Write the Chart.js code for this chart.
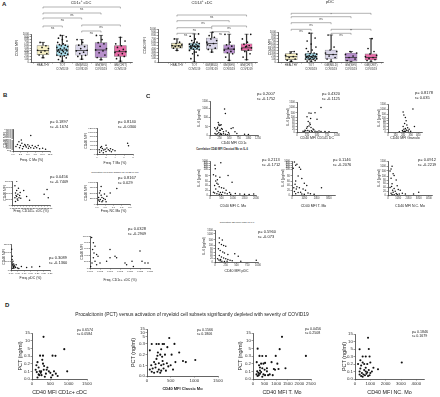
<!DOCTYPE html>
<html lang="en">
<head>
<meta charset="UTF-8">
<title>CD40 MFI figure</title>
<style>
  body { margin: 0; background: #fff; }
  #fig { position: relative; width: 440px; height: 397px; overflow: hidden; background: #fff;
         font-family: "Liberation Sans", Arial, sans-serif; color: #222; }
  #fig canvas { position: absolute; }
  .t { position: absolute; white-space: nowrap; line-height: 1.15; }
  .lt { font-weight: bold; }
  .c { transform: translateX(-50%); }
</style>
</head>
<body>
<div id="fig"></div>
<script src="https://cdn.jsdelivr.net/npm/chart.js"></script>
<script>
// ---------- A: box plots (q1, median, q3, min, max) ----------
const GROUPS = [['HEALTHY'], ['TOT', 'COVID19'], ['GM(MILD)', 'COVID19'], ['GM(SEV)', 'COVID19'], ['GM(CRIT)', 'COVID19']];
const GROUP_COLORS = ['#f6efc4', '#a9dcea', '#d9d5e8', '#b78fcb', '#e86ca8'];
const A_YT = [0, 100, 200, 300, 400, 500, 600, 700, 800, 900, 1000];

const A1_BOX = [[260, 407, 590, 150, 700], [220, 430, 615, 30, 950], [240, 410, 610, 100, 800], [160, 430, 690, 80, 950], [200, 370, 590, 30, 880]];
const A1_PTS = [
  [160, 250, 300, 350, 400, 420, 480, 520, 580, 700],
  [30, 90, 150, 200, 220, 250, 280, 300, 320, 350, 370, 390, 400, 420, 430, 450, 480, 500, 520, 550, 580, 600, 620, 650, 700, 750, 800, 850, 900, 950],
  [100, 200, 240, 300, 350, 400, 420, 480, 550, 600, 700, 800],
  [80, 160, 250, 330, 400, 430, 480, 560, 650, 690, 800, 950],
  [30, 120, 200, 250, 300, 340, 370, 400, 450, 520, 580, 650, 750, 880]
];
const A1_SIG = ['ns', 'ns', 'ns', 'ns', 'ns', 'ns'];

const A2_BOX = [[420, 490, 570, 350, 700], [370, 470, 570, 0, 850], [390, 560, 725, 300, 900], [265, 390, 520, 50, 840], [345, 430, 550, 70, 840]];
const A2_PTS = [
  [350, 420, 450, 470, 490, 500, 520, 560, 600, 700],
  [0, 100, 200, 250, 300, 350, 370, 390, 410, 430, 450, 460, 470, 480, 490, 500, 510, 520, 540, 560, 580, 600, 650, 700, 780, 850, 300, 420, 460, 530],
  [300, 380, 420, 500, 560, 600, 650, 700, 750, 800, 900, 520],
  [50, 150, 250, 280, 320, 360, 390, 420, 480, 520, 600, 840],
  [70, 150, 250, 320, 360, 400, 430, 460, 500, 540, 600, 700, 840, 480]
];
const A2_SIG = ['ns', 'ns', 'ns', 'ns', 'ns', 'ns'];

const A3_BOX = [[80, 180, 280, 20, 350], [90, 180, 290, 0, 960], [100, 250, 400, 0, 900], [30, 150, 300, 0, 350], [70, 150, 270, 0, 780]];
const A3_PTS = [
  [20, 60, 100, 150, 180, 220, 260, 300, 350],
  [0, 30, 50, 80, 90, 100, 110, 120, 130, 140, 150, 160, 170, 180, 190, 200, 210, 220, 240, 260, 280, 300, 350, 400, 450, 500, 600, 700, 800, 960],
  [0, 100, 150, 200, 250, 300, 350, 400, 500, 900],
  [0, 50, 100, 150, 200, 250, 300, 350],
  [0, 50, 80, 120, 150, 180, 220, 270, 350, 450, 780]
];
const A3_SIG = ['*', 'ns', 'ns', 'ns', '**', 'ns'];
const BRACKET_PAIRS = [[0, 4], [0, 3], [0, 2], [0, 1], [2, 4], [2, 3]];

// ---------- B: frequency vs CD40 MFI ----------
const B1_PTS = [[1.5, 3000], [2, 4200], [2.5, 2500], [3, 3500], [3.5, 2000], [4, 3000], [4.5, 1800], [5, 2800], [5.5, 2200], [6, 1500], [6.5, 2500], [7, 1200], [7.5, 2000], [8, 1500], [9, 1000], [10, 1300], [11, 800], [6, 7000], [2.2, 1500], [3.2, 1000], [4.2, 2400], [5.2, 1200], [1, 2000], [8.5, 2500], [2.8, 5000]];
const B1_XT = [0, 2.5, 5, 7.5, 10, 12.5];
const B1_YT = [0, 500, 1000, 1500, 2000, 2500, 3000, 3500, 4000, 4500, 5000, 5500, 6000, 6500, 7000, 7500, 8000, 8500, 9000, 9500, 10000];
const B2_PTS = [[0.5, 2000], [0.8, 3000], [1, 1500], [1.2, 2500], [1.5, 1800], [1.8, 2200], [2, 1200], [2.2, 2800], [2.5, 2000], [2.8, 1500], [3, 2400], [3.2, 1000], [0.6, 800], [1.4, 600], [2, 4000], [1, 3500], [6.8, 5000], [7, 3800], [3.5, 2000], [4, 1500]];
const B2_XT = [0, 2, 4, 6, 8];
const B2_YT = [0, 2000, 4000, 6000, 8000, 10000, 12000];
const B3_PTS = [[0.05, 300], [0.06, 500], [0.07, 400], [0.08, 600], [0.08, 350], [0.09, 250], [0.1, 450], [0.1, 200], [0.11, 700], [0.12, 300], [0.13, 400], [0.14, 520], [0.15, 280], [0.05, 800], [0.06, 150], [0.2, 600], [0.25, 350], [0.55, 450], [0.6, 650], [0.62, 300], [0.08, 1000], [0.3, 200]];
const B3_XT = [0, 0.05, 0.1, 0.15, 0.2, 0.25, 0.3, 0.35, 0.4, 0.45, 0.5, 0.55, 0.6, 0.65];
const B3_YT = [0, 250, 500, 750, 1000];
const B4_PTS = [[0.1, 3000], [0.15, 5000], [0.2, 2000], [0.25, 4000], [0.3, 3000], [0.35, 1500], [0.2, 6000], [0.4, 2500], [0.45, 4500], [0.5, 2000], [0.3, 1000], [0.15, 1200], [0.6, 3500], [0.8, 5000], [1.2, 7000], [0.25, 8000], [0.1, 1800], [0.55, 1000]];
const B4_XT = [0, 0.5, 1, 1.5, 2];
const B4_YT = [0, 2500, 5000, 7500, 10000];
const B5_PTS = [[0.005, 1200], [0.01, 800], [0.01, 400], [0.012, 300], [0.015, 250], [0.018, 200], [0.02, 350], [0.02, 150], [0.022, 100], [0.025, 280], [0.03, 200], [0.035, 150], [0.04, 300], [0.05, 120], [0.08, 200], [0.12, 150], [0.16, 180], [0.22, 200], [0.015, 500], [0.008, 600], [0.01, 100], [0.06, 80]];
const B5_XT = [0, 0.05, 0.1, 0.15, 0.2, 0.25, 0.3];
const B5_YT = [0, 500, 1000, 1500];
const B6_PTS = [[0.0008, 950], [0.0017, 790], [0.0025, 680], [0.0013, 580], [0.002, 470], [0.0033, 420], [0.0017, 320], [0.004, 370], [0.0025, 210], [0.0033, 105], [0.005, 160], [0.0083, 210], [0.01, 320], [0.0125, 370], [0.0133, 320], [0.01, 580], [0.0175, 160], [0.0183, 105], [0.021, 210], [0.025, 530], [0.026, 210], [0.0275, 160], [0.029, 160], [0.0217, 50], [0.0003, 50], [0.001, 160]];
const B6_XT = [0, 0.005, 0.01, 0.015, 0.02, 0.025, 0.03];
const B6_YT = [0, 200, 400, 600, 800, 1000];
const B_STATS = [['0.1897', '-0.1674'], ['0.8140', '-0.0300'], ['0.0456', '-0.7409'], ['0.8167', '0.029'], ['0.3089', '-0.1360'], ['0.0328', '-0.2909']];

// ---------- C: CD40 MFI vs IL-6 (pg/ml) ----------
const IL6_T1 = [0, 50, 500, 1000, 1500];
const IL6_T2 = [0, 20, 40, 60, 80, 100, 500, 1000, 1500];
const IL6_T3 = [0, 20, 40, 60, 80, 200, 400, 600, 800, 1000];
const C1_PTS = [[380, 950], [400, 700], [230, 170], [215, 250], [240, 120], [290, 150], [265, 130], [120, 45], [150, 35], [200, 48], [250, 30], [300, 40], [350, 20], [180, 25], [230, 15], [280, 10], [320, 35], [420, 25], [480, 15], [550, 40], [600, 45], [650, 20], [700, 10], [900, 5], [130, 10], [160, 5], [200, 8], [260, 5], [300, 3], [350, 8], [400, 5], [450, 2], [500, 6], [270, 30], [190, 40], [1000, 3]];
const C1_XT = [0, 250, 500, 750, 1000, 1250];
const C2_PTS = [[600, 1000], [300, 480], [350, 450], [450, 520], [250, 130], [500, 85], [280, 70], [320, 60], [330, 50], [300, 40], [260, 35], [240, 25], [350, 30], [400, 20], [420, 15], [200, 12], [220, 8], [270, 10], [310, 5], [360, 8], [380, 3], [450, 5], [500, 2], [550, 6], [600, 4], [700, 3], [800, 2], [150, 5], [180, 3], [340, 90]];
const C2_XT = [0, 250, 500, 750, 1000];
const C3_PTS = [[200, 700], [330, 1000], [210, 400], [230, 150], [240, 80], [220, 60], [250, 50], [200, 40], [260, 30], [230, 25], [210, 20], [240, 15], [250, 10], [270, 8], [220, 5], [200, 3], [190, 10], [280, 20], [300, 5], [350, 40], [150, 2], [230, 2]];
const C3_XT = [0, 100, 200, 300, 400];
const C4_PTS = [[470, 850], [215, 600], [230, 250], [150, 100], [250, 80], [430, 75], [785, 90], [960, 55], [300, 50], [350, 45], [200, 40], [400, 35], [500, 30], [250, 25], [600, 28], [700, 20], [350, 15], [450, 10], [550, 12], [650, 8], [750, 5], [850, 10], [300, 5], [400, 3], [500, 2], [200, 8], [150, 12], [900, 3], [1100, 6], [1300, 4], [1500, 3], [1700, 2], [1900, 4], [250, 60], [320, 65]];
const C4_XT = [0, 500, 1000, 1500, 2000];
const C5_PTS = [[200, 900], [400, 700], [300, 600], [600, 400], [100, 300], [700, 200], [500, 80], [800, 70], [300, 60], [1000, 50], [1200, 40], [400, 35], [600, 30], [900, 25], [1100, 20], [200, 15], [500, 10], [700, 12], [1300, 8], [1500, 5], [1800, 3], [2400, 30], [300, 5], [800, 4], [1000, 3], [150, 30], [250, 45], [350, 25]];
const C5_XT = [0, 1000, 2000, 3000];
const C6_PTS = [[400, 1000], [300, 700], [200, 500], [500, 300], [600, 150], [300, 90], [800, 80], [400, 60], [900, 50], [200, 40], [600, 35], [1000, 30], [1200, 25], [700, 20], [500, 15], [300, 10], [800, 8], [1100, 5], [1400, 10], [1700, 5], [3000, 15], [2500, 5], [400, 3], [600, 2], [900, 3], [350, 45], [450, 25]];
const C6_XT = [0, 1000, 2000, 3000, 4000];
const C7_PTS = [[100, 650], [170, 500], [100, 300], [150, 180], [200, 100], [250, 95], [80, 80], [120, 70], [180, 60], [220, 55], [460, 50], [540, 35], [300, 45], [100, 40], [150, 30], [200, 25], [250, 20], [300, 15], [350, 10], [120, 8], [160, 5], [220, 3], [280, 5], [400, 8], [600, 5], [960, 10], [60, 20], [90, 12], [130, 15]];
const C7_XT = [0, 250, 500, 750, 1000];
const C_STATS = [['0.2007', '-0.1752'], ['0.4320', '-0.1125'], ['0.8178', '0.035'], ['0.2113', '-0.1712'], ['0.1146', '-0.2076'], ['0.0912', '-0.2219'], ['0.5960', '-0.073']];

// ---------- D: CD40 MFI vs PCT (ng/ml) ----------
const PCT_T = [0, 0.1, 0.2, 0.3, 5, 10, 15];
const PCT_LABELS = ['0.0', '0.1', '0.2', '0.3', '5', '10', '15'];
const D1_PTS = [[120, 0.18], [150, 0.22], [180, 0.15], [100, 0.12], [210, 0.1], [240, 0.08], [260, 0.05], [300, 0.2], [320, 0.12], [350, 0.03], [380, 0.07], [200, 0.05], [150, 0.02], [420, 0.15], [460, 0.1], [500, 0.08], [560, 0.05], [600, 0.1], [520, 0.02], [280, 0.25], [330, 0.17], [250, 0.1], [180, 0.06], [130, 0.09], [400, 0.12], [650, 0.07], [700, 0.04], [960, 0.1], [315, 12.5], [880, 4.5], [220, 0.5], [300, 0.5], [560, 0.5], [640, 0.4]];
const D1_XT = [0, 500, 1000, 1500];
const D2_PTS = [[60, 0.24], [100, 0.3], [200, 0.3], [330, 0.3], [360, 0.3], [250, 0.31], [470, 4], [580, 0.32], [430, 0.27], [300, 0.25], [230, 0.22], [280, 0.2], [320, 0.18], [380, 0.2], [520, 0.2], [200, 0.16], [150, 0.13], [250, 0.12], [300, 0.1], [350, 0.11], [420, 0.12], [180, 0.08], [120, 0.07], [250, 0.06], [300, 0.05], [350, 0.07], [400, 0.05], [100, 0.04], [150, 0.03], [220, 0.04], [280, 0.03], [180, 0.11], [450, 0.09], [500, 0.1], [550, 0.06], [600, 0.13], [680, 0.22], [760, 0.14], [820, 0.13], [1020, 0.15], [220, 0.19], [330, 0.14], [90, 0.1], [60, 0.06]];
const D2_XT = [0, 500, 1000, 1500];
const D3_PTS = [[200, 4.8], [1250, 12.5], [1150, 4.5], [2280, 0.35], [280, 0.35], [400, 0.33], [560, 0.33], [980, 0.35], [350, 0.2], [450, 0.2], [520, 0.21], [800, 0.22], [1050, 0.2], [160, 0.22], [260, 0.18], [300, 0.15], [400, 0.14], [500, 0.12], [600, 0.14], [900, 0.13], [1100, 0.13], [1400, 0.14], [180, 0.1], [230, 0.08], [300, 0.07], [350, 0.09], [450, 0.06], [520, 0.05], [650, 0.05], [720, 0.06], [850, 0.05], [200, 0.04], [250, 0.05], [400, 0.03], [300, 0.11], [150, 0.06], [600, 0.1], [950, 0.12]];
const D3_XT = [0, 500, 1000, 1500, 2000, 2500];
const D4_PTS = [[850, 12.5], [300, 4.8], [900, 5], [500, 0.32], [700, 0.32], [950, 0.34], [3050, 0.22], [350, 0.25], [500, 0.22], [600, 0.2], [800, 0.2], [1000, 0.22], [400, 0.18], [700, 0.15], [900, 0.12], [1200, 0.15], [1500, 0.13], [1100, 0.1], [300, 0.1], [450, 0.08], [550, 0.06], [650, 0.05], [750, 0.07], [850, 0.04], [950, 0.05], [400, 0.04], [500, 0.03], [600, 0.12], [700, 0.1], [800, 0.09], [300, 0.06], [1000, 0.08], [350, 0.14], [200, 0.2]];
const D4_XT = [0, 1000, 2000, 3000, 4000];
const D_STATS = [['0.6574', '0.0584'], ['0.1566', '0.1806'], ['0.0456', '0.2508'], ['0.1846', '0.1679']];

// ---------- layout helpers ----------
const FONT = '"Liberation Sans", Arial, sans-serif';
Chart.defaults.font.family = FONT;
Chart.defaults.color = '#333';
const fig = document.getElementById('fig');
const JIT = [0, -0.2, 0.2, -0.1, 0.1, -0.28, 0.28, -0.05, 0.15, -0.15, 0.05, -0.24, 0.24];

// broken axis: value -> position along piecewise ticks
function toPos(v, t, p) {
  for (let i = 1; i < t.length; i++) {
    if (v <= t[i]) return p[i - 1] + (v - t[i - 1]) / (t[i] - t[i - 1]) * (p[i] - p[i - 1]);
  }
  return p[p.length - 1];
}

function axis(vals, pos, o, title, size, isX) {
  const p = pos || vals;
  const tfs = isX && o.xtitle ? o.xtitle : o.title;
  return {
    type: 'linear',
    min: (isX ? o.xmin : o.ymin) ?? p[0],
    max: (isX ? o.xmax : o.ymax) ?? p[p.length - 1],
    afterBuildTicks: s => { s.ticks = p.map(v => ({ value: v })); },
    afterFit: s => { if (isX) s.height = size; else s.width = size; },
    grid: { drawOnChartArea: false, tickLength: 1.5, color: '#333', lineWidth: 0.5 },
    border: { color: '#222', width: 0.7 },
    ticks: {
      font: { size: o.tick }, padding: 0.5, autoSkip: false, maxRotation: 0, minRotation: 0, color: '#333',
      callback: (v, i) => {
        const lab = (isX ? o.xlab : o.ylab);
        if (lab) return lab[i];
        const d = isX ? o.xdec : o.ydec;
        return d == null ? String(vals[i]) : vals[i].toFixed(d);
      }
    },
    title: { display: !!title, text: title, font: { size: tfs, weight: o.bold && isX ? 'bold' : 'normal' }, padding: 0, color: '#222' }
  };
}

function mk(box, m, cfg, extraPlugins) {
  const [x, y, w, h] = box, [L, B, T, R] = m;
  const c = document.createElement('canvas');
  c.width = w + L + R; c.height = h + T + B;
  c.style.left = (x - L) + 'px'; c.style.top = (y - T) + 'px';
  fig.appendChild(c);
  cfg.options.responsive = false;
  cfg.options.animation = false;
  cfg.options.events = [];
  cfg.options.layout = { padding: { top: T, right: R, left: 0, bottom: 0 } };
  cfg.options.plugins = Object.assign({ legend: { display: false }, tooltip: { enabled: false } }, cfg.options.plugins || {});
  cfg.plugins = extraPlugins || [];
  return new Chart(c, cfg);
}

function scatter(box, m, pts, xt, yt, ypos, xTitle, yTitle, o) {
  const data = pts.map(q => ({ x: q[0], y: ypos ? toPos(q[1], yt, ypos) : q[1] }));
  mk(box, m, {
    type: 'scatter',
    data: { datasets: [{ data, pointRadius: o.r, pointBackgroundColor: '#111', pointBorderWidth: 0 }] },
    options: { scales: { x: axis(xt, null, o, xTitle, m[1], true), y: axis(yt, ypos, o, yTitle, m[0], false) } }
  });
}

const bracketPlugin = {
  id: 'brackets',
  afterDraw(chart, args, opts) {
    const { ctx, chartArea, scales: { x } } = chart;
    ctx.save();
    ctx.strokeStyle = '#666'; ctx.lineWidth = 0.5; ctx.fillStyle = '#333';
    ctx.font = '3px ' + FONT; ctx.textAlign = 'center'; ctx.textBaseline = 'top';
    BRACKET_PAIRS.forEach(([a, b], i) => {
      const x1 = x.getPixelForValue(a), x2 = x.getPixelForValue(b);
      const y = chartArea.top - opts.levels[i];
      ctx.beginPath();
      ctx.moveTo(x1, y + 1.5); ctx.lineTo(x1, y); ctx.lineTo(x2, y); ctx.lineTo(x2, y + 1.5);
      ctx.stroke();
      ctx.fillText(opts.sig[i], (x1 + x2) / 2, y + 0.6);
    });
    ctx.restore();
  }
};

function boxPlot(box, m, boxes, pts, sig, levels, bw, xmin) {
  const o = { tick: 2.8, title: 3.6, xmin, xmax: 4.6, xlab: GROUPS };
  const datasets = [
    { type: 'scatter', order: 0, data: pts.flatMap((g, i) => g.map((v, j) => ({ x: i + JIT[j % JIT.length], y: v }))),
      pointRadius: 0.85, pointBackgroundColor: '#111', pointBorderWidth: 0 },
    { type: 'scatter', order: 1, data: boxes.map((b, i) => ({ x: i, y: b[1] })),
      pointStyle: 'line', pointRadius: bw / 2, pointBorderColor: '#333', pointBorderWidth: 0.8 },
    { type: 'scatter', order: 1, data: boxes.flatMap((b, i) => [{ x: i, y: b[3] }, { x: i, y: b[4] }]),
      pointStyle: 'line', pointRadius: 2, pointBorderColor: '#222', pointBorderWidth: 0.6 },
    { type: 'bar', order: 2, grouped: false, data: boxes.map((b, i) => ({ x: i, y: [b[0], b[2]] })),
      backgroundColor: GROUP_COLORS, borderColor: '#777', borderWidth: 0.6, borderSkipped: false, barThickness: bw },
    { type: 'bar', order: 3, grouped: false, data: boxes.map((b, i) => ({ x: i, y: [b[3], b[4]] })),
      backgroundColor: '#333', barThickness: 0.6 }
  ];
  const xs = axis([0, 1, 2, 3, 4], null, o, '', m[1], true);
  xs.offset = false;
  mk(box, m, {
    type: 'bar',
    data: { datasets },
    options: {
      scales: { x: xs, y: axis(A_YT, null, o, 'CD40 MFI', m[0], false) },
      plugins: { brackets: { sig, levels } }
    }
  }, [bracketPlugin]);
}

function txt(x, y, s, size, cls, extra) {
  const d = document.createElement('div');
  d.className = 't ' + (cls || '');
  d.style.left = x + 'px'; d.style.top = y + 'px'; d.style.fontSize = size + 'px';
  if (extra) Object.assign(d.style, extra);
  d.innerHTML = s;
  fig.appendChild(d);
}
const stat = (x, y, s, size) => txt(x, y, 'p= ' + s[0] + '<br>r= ' + s[1], size || 4);

// ---------- panel A ----------
boxPlot([31, 34, 101, 28], [16, 16, 34, 10], A1_BOX, A1_PTS, A1_SIG, [27, 21, 16, 8, 9, 3], 12, -0.62);
boxPlot([158, 29, 99, 33], [15, 16, 29, 10], A2_BOX, A2_PTS, A2_SIG, [14, 8.3, 1.3, -4.3, 3, -2.7], 11, -1.09);
boxPlot([278, 32, 105, 30], [10, 16, 32, 10], A3_BOX, A3_PTS, A3_SIG, [18.7, 15.3, 9.3, 2.7, 2.7, -1.3], 12, -0.66);
txt(2, 1, 'A', 6, 'lt');
txt(81, 0, 'CD1c<sup style="font-size:3px">+</sup> cDC', 4, 'c');
txt(202, 0, 'CD14<sup style="font-size:3px">+</sup> cDC', 4, 'c');
txt(330, 0, 'pDC', 4, 'c');

// ---------- panel B ----------
const oB = { tick: 2.4, title: 3.4, r: 0.75 };
scatter([13, 128, 37, 23], [10, 11, 3, 6], B1_PTS, B1_XT, B1_YT, null, 'Freq. C Mo (%)', 'CD40 MFI', Object.assign({ xdec: 1 }, oB));
scatter([97, 127, 36, 27], [13, 11, 3, 6], B2_PTS, B2_XT, B2_YT, null, 'Freq. T Mo (%)', 'CD40 MFI', oB);
scatter([12, 180, 38, 25], [9, 8, 3, 6], B3_PTS, B3_XT, B3_YT, null, 'Freq. CD141+ cDC (%)', 'CD40 MFI', Object.assign({ xdec: 2 }, oB));
scatter([97, 181, 33, 23], [13, 9, 3, 6], B4_PTS, B4_XT, B4_YT, null, 'Freq. NC Mo (%)', 'CD40 MFI', Object.assign({ xdec: 1 }, oB));
scatter([11, 243, 39, 27], [9, 10, 3, 6], B5_PTS, B5_XT, B5_YT, null, 'Freq. pDC (%)', 'CD40 MFI', Object.assign({ xdec: 2 }, oB));
scatter([90, 235, 60, 33], [10, 14, 3, 6], B6_PTS, B6_XT, B6_YT, null, 'Freq. CD1c+ cDC (%)', 'CD40 MFI', Object.assign({ xdec: 3 }, oB));
txt(3, 92, 'B', 6, 'lt');
txt(115, 171, 'Correlation Freq Non Classic Mo vs CD40 MFI', 2.3, 'c');
[[50, 120], [118, 120], [50, 175], [118, 176], [49, 256], [128, 227]].forEach((p, i) => stat(p[0], p[1], B_STATS[i]));

// ---------- panel C ----------
const oC = { tick: 2.6, title: 3.5, r: 0.75 };
const C1_YPOS = [0, 2.5, 5.5, 8.3, 10.5];
const C2_YPOS = [0, 0.94, 1.88, 2.82, 3.76, 4.7, 6.0, 7.7, 9.4];
const C4_YPOS = [0, 1.5, 3, 4.4, 6, 8.1, 8.7, 9.4, 10, 10.7];
const C6_YPOS = [0, 1.2, 2.4, 3.6, 4.8, 6.0, 7.7, 9.2, 10.9];
const C7_YPOS = [0, 1, 2, 3, 4, 5, 6.7, 8.5, 9.7];
scatter([210, 100, 48, 35], [13, 10, 3, 6], C1_PTS, C1_XT, IL6_T1, C1_YPOS, 'CD40 MFI CD1c', 'IL-6 (pg/ml)', oC);
scatter([297, 101, 40, 31], [11, 8, 3, 6], C2_PTS, C2_XT, IL6_T2, C2_YPOS, 'CD40 MFI CD141 DC', 'IL-6 (pg/ml)', oC);
scatter([388, 103, 34, 29], [11, 8, 3, 6], C3_PTS, C3_XT, IL6_T2, C2_YPOS, 'CD40 MFI Granulo', 'IL-6 (pg/ml)', Object.assign({ xmax: 450 }, oC));
scatter([210, 160, 46, 35], [13, 13, 3, 6], C4_PTS, C4_XT, IL6_T3, C4_YPOS, 'CD40 MFI C. Mo', 'IL-6 (pg/ml)', oC);
scatter([292, 160, 43, 35], [11, 13, 3, 6], C5_PTS, C5_XT, IL6_T3, C4_YPOS, 'CD40 MFI T. Mo', 'IL-6 (pg/ml)', Object.assign({ xmax: 3500 }, oC));
scatter([388, 160, 44, 35], [11, 13, 3, 6], C6_PTS, C6_XT, IL6_T2, C6_YPOS, 'CD40 MFI N.C. Mo', 'IL-6 (pg/ml)', Object.assign({ xmax: 4300 }, oC));
scatter([215, 229, 43, 33], [13, 11, 3, 6], C7_PTS, C7_XT, IL6_T2, C7_YPOS, 'CD40 MFI pDC', 'IL-6 (pg/ml)', oC);
txt(146, 93, 'C', 6, 'lt');
txt(222, 149, 'Correlation CD40 MFI Classical Mo vs IL-6', 2.6, 'c lt');
txt(237, 221, 'Correlation CD40MFI pDC vs IL-6', 2.3, 'c');
[[257, 92], [322, 92], [415, 91], [262, 158], [333, 158], [418, 158], [258, 230]].forEach((p, i) => stat(p[0], p[1], C_STATS[i]));

// ---------- panel D ----------
const oD = { tick: 4.4, title: 5.4, r: 1.05, ylab: PCT_LABELS };
const D_YPOS = [0, 1, 2, 3, 4, 5, 6];
const D2_YPOS = [0, 1, 2, 3, 3.7, 4.05, 4.4];
scatter([32, 333, 55, 46], [15, 17, 4, 6], D1_PTS, D1_XT, PCT_T, D_YPOS, 'CD40 MFI CD1c+ cDC', 'PCT (ng/ml)', oD);
scatter([147, 329, 71, 47], [17, 15, 4, 6], D2_PTS, D2_XT, PCT_T, D2_YPOS, 'CD40 MFI Classic Mo', 'PCT (ng/ml)', Object.assign({}, oD, { bold: true, xtitle: 4 }));
scatter([253, 333, 58, 46], [16, 17, 4, 6], D3_PTS, D3_XT, PCT_T, D_YPOS, 'CD40 MFI T. Mo', 'PCT (ng/ml)', oD);
scatter([355, 334, 69, 45], [14, 17, 4, 8], D4_PTS, D4_XT, PCT_T, D_YPOS, 'CD40 MFI NC. Mo', 'PCT (ng/ml)', Object.assign({ xmax: 4500 }, oD));
txt(5, 302, 'D', 6, 'lt');
txt(192, 312, 'Procalcitonin (PCT) versus activation of myeloid cell subsets significantly depleted with severity of COVID19', 4.9, 'c');
[[77, 328], [197, 328], [305, 327], [412, 330]].forEach((p, i) => stat(p[0], p[1], D_STATS[i], 3.6));
</script>
</body>
</html>
